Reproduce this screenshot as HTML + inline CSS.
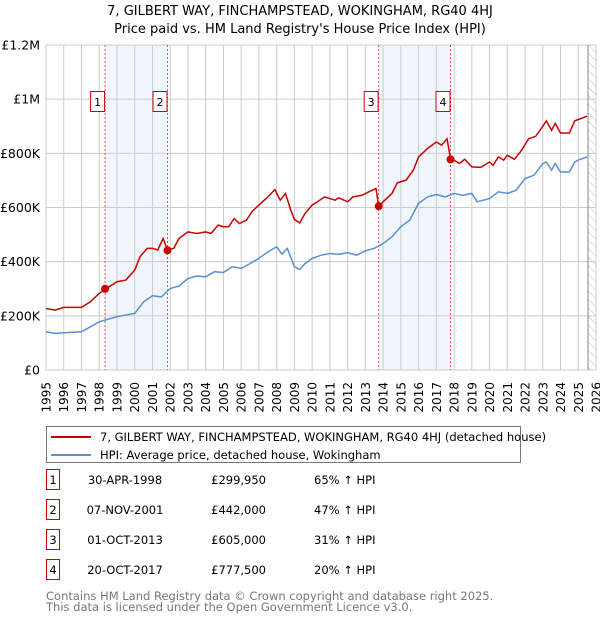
<!DOCTYPE html>
<html><head><meta charset="utf-8"><style>
body{margin:0;background:#fff;font-family:"Liberation Sans","DejaVu Sans",sans-serif;}
svg text{font-family:"DejaVu Sans","Liberation Sans",sans-serif;}
</style></head><body>
<svg id="c" width="600" height="620" viewBox="0 0 600 620" xmlns="http://www.w3.org/2000/svg">
<defs><pattern id="hatch" width="6" height="6" patternUnits="userSpaceOnUse" patternTransform="rotate(-45)"><line x1="0" y1="0" x2="0" y2="6" stroke="#bbb" stroke-width="1"/></pattern></defs>
<text x="300" y="15" text-anchor="middle" font-size="13" fill="#000">7, GILBERT WAY, FINCHAMPSTEAD, WOKINGHAM, RG40 4HJ</text>
<text x="300" y="33" text-anchor="middle" font-size="13" fill="#000">Price paid vs. HM Land Registry's House Price Index (HPI)</text>
<g id="plot"></g>
<g>
<rect x="46.5" y="426.5" width="474" height="36" fill="#fff" stroke="#777"/>
<line x1="51" y1="437" x2="91" y2="437" stroke="#cc0000" stroke-width="2"/>
<text x="100" y="441" font-size="11.5">7, GILBERT WAY, FINCHAMPSTEAD, WOKINGHAM, RG40 4HJ (detached house)</text>
<line x1="51" y1="455" x2="91" y2="455" stroke="#5b8fd4" stroke-width="2"/>
<text x="100" y="459" font-size="11.5">HPI: Average price, detached house, Wokingham</text>
</g>
<g id="table" font-size="11.5"></g>
<text x="46" y="600" font-size="11.5" fill="#777">Contains HM Land Registry data © Crown copyright and database right 2025.</text>
<text x="46" y="611" font-size="11.5" fill="#777">This data is licensed under the Open Government Licence v3.0.</text>
</svg>
<script>
const yTicks=[0,200,400,600,800,1000,1200];
const yTickLabels=["£0","£200K","£400K","£600K","£800K","£1M","£1.2M"];
const years=[1995,1996,1997,1998,1999,2000,2001,2002,2003,2004,2005,2006,2007,2008,2009,2010,2011,2012,2013,2014,2015,2016,2017,2018,2019,2020,2021,2022,2023,2024,2025,2026];
const hpiT=[1995,1995.5,1997,1998,1999,2000,2000.5,2001,2001.5,2002,2002.5,2003,2003.5,2004,2004.5,2005,2005.5,2006,2006.5,2007,2007.5,2008,2008.3,2008.6,2009,2009.3,2009.6,2010,2010.5,2011,2011.5,2012,2012.5,2013,2013.5,2014,2014.5,2015,2015.5,2016,2016.5,2017,2017.5,2018,2018.5,2019,2019.3,2020,2020.5,2021,2021.5,2022,2022.5,2023,2023.2,2023.5,2023.7,2024,2024.5,2024.8,2025,2025.5];
const hpiV=[141,135,141,178,197,209,252,274,270,301,310,338,347,344,363,360,381,375,393,412,436,455,428,449,381,371,393,412,424,430,427,433,424,440,449,467,492,529,553,615,639,648,639,652,645,652,621,633,658,652,664,707,719,762,768,738,762,731,731,768,775,787];
const priceT=[1995,1995.5,1996,1997,1997.5,1998,1998.33,1999,1999.5,2000,2000.3,2000.7,2001,2001.3,2001.6,2001.85,2002.2,2002.5,2003,2003.5,2004,2004.3,2004.7,2005,2005.3,2005.6,2005.9,2006.3,2006.6,2007,2007.5,2007.9,2008.2,2008.5,2008.8,2009,2009.3,2009.6,2010,2010.3,2010.7,2011.3,2011.5,2012,2012.3,2012.8,2013.2,2013.6,2013.75,2014,2014.5,2014.8,2015.3,2015.7,2016,2016.5,2017,2017.3,2017.6,2017.8,2018,2018.3,2018.6,2019,2019.5,2020,2020.2,2020.5,2020.8,2021,2021.4,2021.8,2022.2,2022.6,2023,2023.2,2023.5,2023.7,2024,2024.5,2024.8,2025,2025.5];
const priceV=[227,221,231,231,252,283,298,326,332,369,418,449,449,443,486,443,449,486,510,504,510,504,535,529,529,559,541,553,584,609,639,666,627,652,590,556,543,578,609,621,639,627,636,621,639,645,658,670,602,621,652,691,701,738,787,818,842,830,854,781,775,762,778,750,748,768,756,787,775,793,778,811,854,863,900,920,885,911,875,875,920,925,937];
const saleT=[1998.33,2001.85,2013.75,2017.8];
const saleV=[299.95,442,605,777.5];
const saleLabels=["1","2","3","4"];
const saleDates=["30-APR-1998","07-NOV-2001","01-OCT-2013","20-OCT-2017"];
const salePrices=["£299,950","£442,000","£605,000","£777,500"];
const saleHpi=["65% ↑ HPI","47% ↑ HPI","31% ↑ HPI","20% ↑ HPI"];
const dataEnd=2025.55;

const X0=46,X1=596,Y0=370,Y1=45;
const xs=t=>X0+(t-1995)/(2026-1995)*(X1-X0);
const ys=v=>Y0-v/1200*(Y0-Y1);
const NS="http://www.w3.org/2000/svg";
const plot=document.getElementById('plot');
function mk(tag,attrs,parent){const e=document.createElementNS(NS,tag);for(const k in attrs)e.setAttribute(k,attrs[k]);(parent||plot).appendChild(e);return e;}

let r;
for(let i=0;i<saleT.length;i+=2){
 r=mk('rect',{x:xs(saleT[i]),y:Y1,width:xs(saleT[i+1])-xs(saleT[i]),height:Y0-Y1,fill:'#eef4fd',opacity:0.8});
 
 
}
r=mk('rect',{x:xs(dataEnd),y:Y1,width:X1-xs(dataEnd),height:Y0-Y1,fill:'url(#hatch)'});


years.forEach(y=>{
 const l=mk('line',{x1:xs(y),x2:xs(y),y1:Y1,y2:Y0,stroke:'#ccc','stroke-width':1});
 
 
 const t=mk('text',{x:0,y:0,'font-size':12,'text-anchor':'end',transform:`translate(${xs(y)+4.5},382) rotate(-90)`});
 t.textContent=y;
 
 
});
yTicks.forEach((v,i)=>{
 const l=mk('line',{x1:X0,x2:X1,y1:ys(v),y2:ys(v),stroke:'#ccc','stroke-width':1});
 
 
 const t=mk('text',{x:40,y:ys(v)+4.5,'font-size':12.5,'text-anchor':'end'});
 t.textContent=yTickLabels[i];
 
 
});
r=mk('line',{x1:xs(dataEnd),x2:xs(dataEnd),y1:Y1,y2:Y0,stroke:'#888','stroke-width':1});


saleT.forEach((t,i)=>{
 const l=mk('line',{x1:xs(t),x2:xs(t),y1:Y1,y2:Y0,stroke:'#e05050','stroke-width':1,'stroke-dasharray':'2,2'});
 
 
});
const path=(T,V)=>T.map((t,i)=>(i?'L':'M')+xs(t).toFixed(1)+','+ys(V[i]).toFixed(1)).join('');
r=mk('path',{d:path(hpiT,hpiV),fill:'none',stroke:'#5b8fd4','stroke-width':1.5});


r=mk('path',{d:path(priceT,priceV),fill:'none',stroke:'#cc0000','stroke-width':1.5});


saleT.forEach((t,i)=>{
 const c=mk('circle',{cx:xs(t),cy:ys(saleV[i]),r:4,fill:'#cc0000'});
 
 
 const b=mk('rect',{x:xs(t)-14.5,y:91.5,width:14,height:20,fill:'#fff',stroke:'#cc0000'});
 
 
 const tx=mk('text',{x:xs(t)-7.5,y:106,'font-size':11,'text-anchor':'middle'});
 tx.textContent=saleLabels[i];
 
 
});
const tbl=document.getElementById('table');
saleT.forEach((t,i)=>{
 const y=483+i*30;
 const b=mk('rect',{x:46.5,y:y-13.5,width:13,height:20,fill:'#fff',stroke:'#cc0000'},tbl);
 
 
 const cells=[[53,saleLabels[i],'middle'],[125,saleDates[i],'middle'],[266,salePrices[i],'end'],[314,saleHpi[i],'start']];
 cells.forEach(([x,s,a])=>{
  const tx=mk('text',{x:x,y:y+1,'text-anchor':a},tbl);
  tx.textContent=s;
  
  
 });
});
</script>
</body></html>
